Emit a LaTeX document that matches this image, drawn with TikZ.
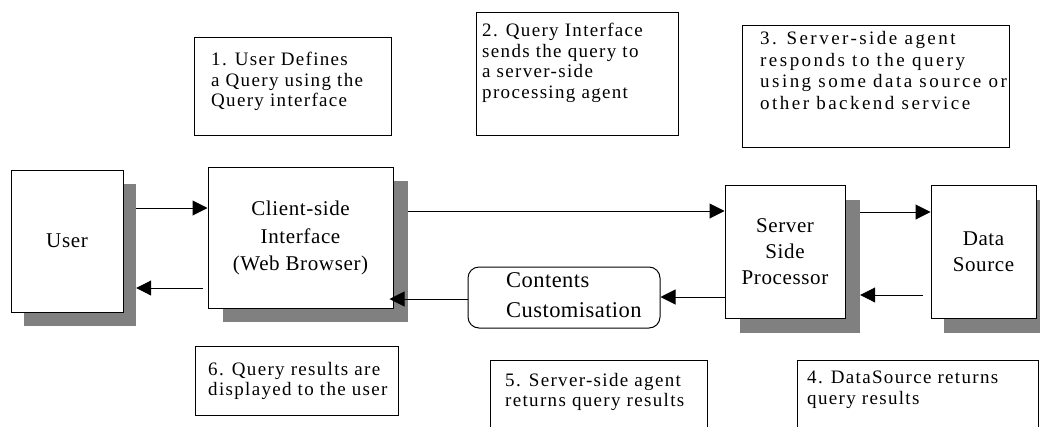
\documentclass[tikz,border=0pt]{standalone}
\usepackage{fontspec}
\setmainfont{Liberation Serif}
\newfontfamily\notefnt[LetterSpace=7]{Liberation Serif}
\newfontfamily\notewidefnt[LetterSpace=13]{Liberation Serif}
\newfontfamily\boxfnt[LetterSpace=3]{Liberation Serif}
\newfontfamily\ccfnt[LetterSpace=2]{Liberation Serif}
\usetikzlibrary{arrows.meta}
\begin{document}
\begin{tikzpicture}[x=1pt,y=-1pt,
  mainbox/.style={draw, line width=1pt, fill=white, inner sep=0pt, align=center, font=\boxfnt\fontsize{21}{26}\selectfont},
  shade/.style={fill=black!50, draw=none, inner sep=0pt},
  note/.style={draw, line width=0.9pt, fill=white, inner sep=0pt},
  notetext/.style={anchor=north west, inner sep=0pt, align=left, font=\notefnt\fontsize{19}{20.5}\selectfont},
  arr/.style={line width=1pt, -{Triangle[length=15pt,width=15pt]}},
]
\useasboundingbox (0,0) rectangle (1040,426);

% shadows
\node[shade, minimum width=112pt, minimum height=142pt] (usersh) at (80,255) {};
\node[shade, minimum width=185pt, minimum height=141pt] (clientsh) at (315.5,251.5) {};
\node[shade, minimum width=120pt, minimum height=133pt] (serversh) at (800,266.5) {};
\node[shade, minimum width=105pt, minimum height=133pt] (datash) at (996.5,266.5) {};

% main boxes
\node[mainbox, minimum width=112pt, minimum height=142pt] (user) at (67,241) {User};
\node[mainbox, minimum width=185pt, minimum height=141pt, font=\boxfnt\fontsize{21}{27.5}\selectfont] (client) at (300.5,238) {Client-side\\Interface\\(Web Browser)};
\node[mainbox, minimum width=120pt, minimum height=133pt] (server) at (785,251.5) {Server\\Side\\Processor};
\node[mainbox, minimum width=105pt, minimum height=133pt] (data) at (983.5,251.5) {Data\\Source};

% contents customisation
\node[draw, line width=1pt, rounded corners=11pt, minimum width=192pt, minimum height=61pt, inner sep=0pt] (cc) at (564,297.5) {};
\node[anchor=north west, inner sep=0pt, align=left, font=\ccfnt\fontsize{22.5}{30}\selectfont] (cctext) at (506,272) {Contents\\Customisation};

% arrows
\draw[arr] (usersh.east |- 0,208) -- (client.west |- 0,208);
\draw[arr, shorten <=5pt] (client.west |- 0,288) -- (usersh.east |- 0,288);
\draw[arr] (clientsh.east |- 0,211) -- (server.west |- 0,211);
\draw[arr] (serversh.east |- 0,212) -- (data.west |- 0,212);
\draw[arr, shorten <=8pt] (data.west |- 0,295) -- (serversh.east |- 0,295);
\draw[arr] (server.west |- 0,297) -- (cc.east |- 0,297);
\draw[arr, shorten >=-4pt] (cc.west |- 0,299) -- (client.east |- 0,299);

% notes
\node[note, minimum width=197pt, minimum height=98pt] (n1) at (292.5,86) {};
\node[notetext] (t1) at (211,52) {1. User Defines\\a Query using the\\Query interface};
\node[note, minimum width=202pt, minimum height=123pt] (n2) at (577,73.5) {};
\node[notetext] (t2) at (482,23) {2. Query Interface\\sends the query to\\a server-side\\processing agent};
\node[note, minimum width=267pt, minimum height=122pt] (n3) at (875.5,86) {};
\node[notetext, font=\notewidefnt\fontsize{19}{21.7}\selectfont] (t3) at (760,31) {3. Server-side agent\\responds to the query\\using some data source or\\other backend service};
\node[note, minimum width=203pt, minimum height=69pt] (n6) at (296.5,380.5) {};
\node[notetext] (t6) at (208,362) {6. Query results are\\displayed to the user};
\node[note, minimum width=217pt, minimum height=90pt] (n5) at (598.5,405) {};
\node[notetext] (t5) at (505,373) {5. Server-side agent\\returns query results};
\node[note, minimum width=241pt, minimum height=90pt] (n4) at (917.5,405) {};
\node[notetext] (t4) at (807,371) {4. DataSource returns\\query results};
\end{tikzpicture}
\end{document}
